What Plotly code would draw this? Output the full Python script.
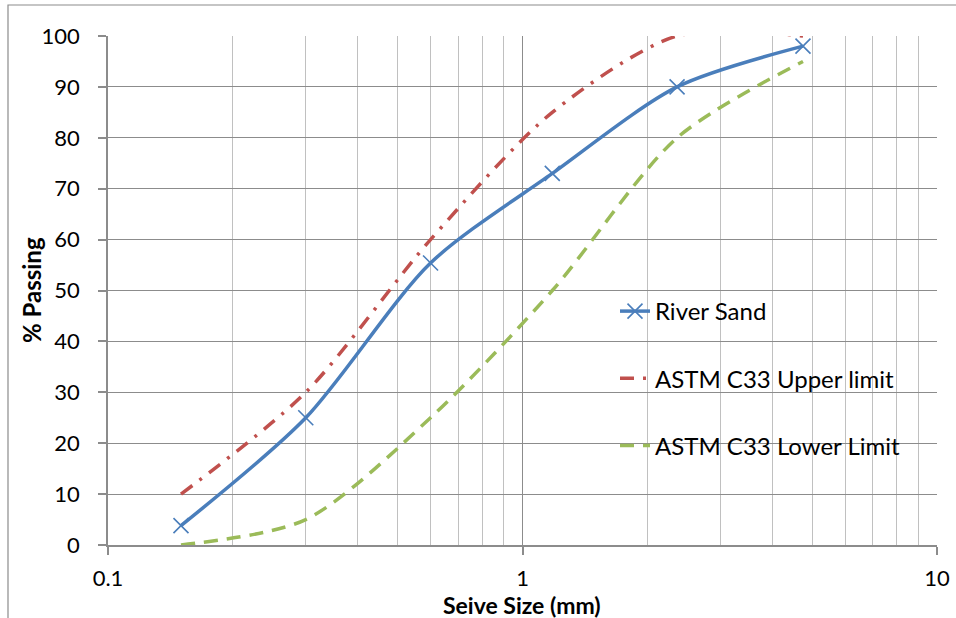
import plotly.graph_objects as go

# Sieve sizes (mm) and percent passing
sieve_mm = [0.15, 0.3, 0.6, 1.18, 2.36, 4.75]
river_sand = [3.8, 25, 55.4, 73, 90, 98]
astm_upper = [10, 30, 60, 85, 100, 100]
astm_lower = [0, 5, 25, 50, 80, 95]

x_major = [0.1, 1, 10]
x_major_text = ["0.1", "1", "10"]
x_minor = [0.2, 0.3, 0.4, 0.5, 0.6, 0.7, 0.8, 0.9, 2, 3, 4, 5, 6, 7, 8, 9]

FONT = "Lato, 'Open Sans', sans-serif"

fig = go.Figure()

fig.add_trace(go.Scatter(
    x=sieve_mm, y=river_sand, name="River Sand", legendgroup="a",
    mode="lines+markers",
    line=dict(color="#4a7ebb", width=3.5, shape="spline", smoothing=0.8),
    marker=dict(symbol="x-thin", size=15, line=dict(color="#4a7ebb", width=1.6)),
))
fig.add_trace(go.Scatter(
    x=sieve_mm, y=astm_upper, name="ASTM C33 Upper limit", legendgroup="b",
    mode="lines",
    line=dict(color="#c0504d", width=3.5, shape="spline", smoothing=0.8,
              dash="14px,9px,3px,9px"),
))
fig.add_trace(go.Scatter(
    x=sieve_mm, y=astm_lower, name="ASTM C33 Lower Limit", legendgroup="c",
    mode="lines",
    line=dict(color="#9bbb59", width=3.5, shape="spline", smoothing=0.8,
              dash="14px,9px"),
))

W, H = 956, 618
L, R, T, B = 108, 19, 36, 73
pw, ph = W - L - R, H - T - B

def px_to_paper_x(px):
    return (px - L) / pw

def px_to_paper_y(py):
    return (H - B - py) / ph

fig.update_layout(
    width=W, height=H,
    margin=dict(l=L, r=R, t=T, b=B),
    paper_bgcolor="white", plot_bgcolor="white",
    font=dict(family=FONT, size=22, color="#000000"),
    showlegend=True,
    legend=dict(
        x=px_to_paper_x(615), y=px_to_paper_y(289),
        xanchor="left", yanchor="top",
        bgcolor="rgba(0,0,0,0)",
        font=dict(family=FONT, size=24, color="#000000"),
        traceorder="grouped", tracegroupgap=33,
    ),
    xaxis=dict(
        type="log", range=[-1, 1], automargin=False,
        tickvals=x_major, ticktext=x_major_text,
        tickfont=dict(size=22),
        showgrid=True, gridcolor="#8c8c8c", gridwidth=1.2,
        minor=dict(tickvals=x_minor, showgrid=True, gridcolor="#c0c0c0",
                   gridwidth=1.2, ticks=""),
        showline=True, linecolor="#8c8c8c", linewidth=1.5,
        ticks="outside", ticklen=8, tickcolor="#8c8c8c", tickwidth=1.5,
        ticklabelstandoff=5,
        zeroline=False, mirror=False,
    ),
    yaxis=dict(
        range=[0, 100], dtick=10, automargin=False,
        tickfont=dict(size=22),
        showgrid=True, gridcolor="#8c8c8c", gridwidth=1.2,
        showline=True, linecolor="#8c8c8c", linewidth=1.5,
        ticks="outside", ticklen=8, tickcolor="#8c8c8c", tickwidth=1.5,
        ticklabelstandoff=14,
        zeroline=False,
    ),
    annotations=[
        dict(text="<b>Seive Size (mm)</b>", xref="paper", yref="paper",
             x=px_to_paper_x(522), y=px_to_paper_y(605),
             xanchor="center", yanchor="middle", showarrow=False,
             font=dict(family=FONT, size=23, color="#000000")),
        dict(text="<b>% Passing</b>", xref="paper", yref="paper",
             x=px_to_paper_x(31), y=px_to_paper_y(290), textangle=-90,
             xanchor="center", yanchor="middle", showarrow=False,
             font=dict(family=FONT, size=24, color="#000000")),
    ],
    shapes=[
        dict(type="rect", xref="paper", yref="paper",
             x0=px_to_paper_x(8), x1=px_to_paper_x(990),
             y0=px_to_paper_y(650), y1=px_to_paper_y(5),
             line=dict(color="#8c8c8c", width=1.2), fillcolor="rgba(0,0,0,0)",
             layer="below"),
    ],
)

fig.write_html("out.html")
